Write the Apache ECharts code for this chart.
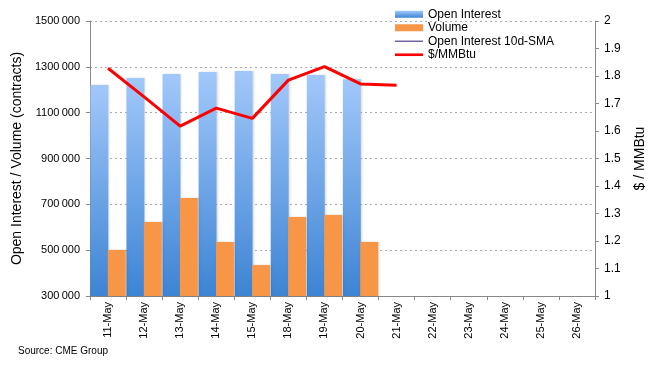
<!DOCTYPE html>
<html><head><meta charset="utf-8">
<script src="https://cdn.jsdelivr.net/npm/echarts@6/dist/echarts.min.js"></script>
<style>html,body{margin:0;padding:0;background:#fff}#c{width:655px;height:365px}</style>
</head><body><div id="c"></div>
<script>
var categories = ['11-May','12-May','13-May','14-May','15-May','18-May','19-May','20-May','21-May','22-May','23-May','24-May','25-May','26-May'];
var openInterest = [1221000, 1251000, 1269000, 1277000, 1282000, 1269000, 1264000, 1246000, null, null, null, null, null, null];
var volume = [501000, 623000, 728000, 536000, 435000, 645000, 654000, 536000, null, null, null, null, null, null];
var oiSMA = [null, null, null, null, null, null, null, null, null, null, null, null, null, null];
var price = [1.828, 1.724, 1.618, 1.683, 1.646, 1.785, 1.834, 1.771, 1.766, null, null, null, null, null];

var font = 'Liberation Sans, Arial, sans-serif';
var chart = echarts.init(document.getElementById('c'), null, {renderer: 'canvas'});
chart.setOption({
  animation: false,
  textStyle: {fontFamily: font},
  grid: {left: 90, right: 58, top: 21, bottom: 69, containLabel: false},
  legend: {
    orient: 'vertical', left: 390, top: 3, itemWidth: 28, itemHeight: 7, itemGap: 1,
    textStyle: {fontSize: 12, color: '#000', fontFamily: font, lineHeight: 12.5},
    data: [
      {name: 'Open Interest', icon: 'rect'},
      {name: 'Volume', icon: 'rect'},
      {name: 'Open Interest 10d-SMA', icon: 'path://M0,0M0,2.8L28,2.8L28,4.2L0,4.2ZM28,7', itemStyle: {color: '#6a5a9a'}},
      {name: '$/MMBtu', icon: 'path://M0,0M0,2.2L28,2.2L28,4.8L0,4.8ZM28,7'}
    ]
  },
  graphic: [{type: 'text', left: 18, top: 346, style: {text: 'Source: CME Group', font: '10px ' + font, fill: '#000'}}],
  xAxis: {
    type: 'category', data: categories,
    axisLine: {lineStyle: {color: '#888'}},
    axisTick: {show: true, length: 4, lineStyle: {color: '#888'}},
    axisLabel: {rotate: 90, fontSize: 11, color: '#000', margin: 6, fontFamily: font, interval: 0},
    splitLine: {show: false}
  },
  yAxis: [{
    type: 'value', min: 300000, max: 1500000, interval: 200000,
    name: 'Open Interest / Volume (contracts)', nameLocation: 'middle', nameGap: 58,
    nameTextStyle: {fontSize: 14, color: '#000', fontFamily: font},
    axisLine: {show: true, lineStyle: {color: '#888'}},
    axisTick: {show: true, length: 4, lineStyle: {color: '#888'}},
    axisLabel: {fontSize: 11, color: '#000', margin: 10, fontFamily: font,
      formatter: function (v) { var s = String(v); return s.slice(0, s.length - 3) + '\u2009' + s.slice(-3); }},
    splitLine: {show: true, lineStyle: {color: '#aaa', type: [2, 3]}}
  }, {
    type: 'value', min: 1, max: 2, interval: 0.1, position: 'right',
    name: '$ / MMBtu', nameLocation: 'middle', nameGap: 38, nameRotate: 90,
    nameTextStyle: {fontSize: 14, color: '#000', fontFamily: font},
    axisLine: {show: true, lineStyle: {color: '#888'}},
    axisTick: {show: true, length: 4, lineStyle: {color: '#888'}},
    axisLabel: {fontSize: 12, color: '#000', margin: 9, fontFamily: font,
      formatter: function (v) { return String(Math.round(v * 10) / 10); }},
    splitLine: {show: false}
  }],
  series: [{
    name: 'Open Interest', type: 'bar', data: openInterest, yAxisIndex: 0,
    barCategoryGap: '2%', barGap: '-3%',
    itemStyle: {color: new echarts.graphic.LinearGradient(0, 0, 0, 1, [{offset: 0, color: '#a2c8fa'}, {offset: 1, color: '#3d84d4'}]),
      shadowColor: 'rgba(0,0,0,0.15)', shadowBlur: 2, shadowOffsetX: 1}
  }, {
    name: 'Volume', type: 'bar', data: volume, yAxisIndex: 0,
    itemStyle: {color: '#f79646', shadowColor: 'rgba(0,0,0,0.15)', shadowBlur: 2, shadowOffsetX: 1}
  }, {
    name: 'Open Interest 10d-SMA', type: 'line', data: oiSMA, yAxisIndex: 0,
    symbol: 'none', lineStyle: {color: '#6a5a9a', width: 1}, itemStyle: {color: '#6a5a9a'}
  }, {
    name: '$/MMBtu', type: 'line', data: price, yAxisIndex: 1,
    symbol: 'none', lineStyle: {color: '#ff0000', width: 3}, itemStyle: {color: '#ff0000'}
  }]
});
</script></body></html>
